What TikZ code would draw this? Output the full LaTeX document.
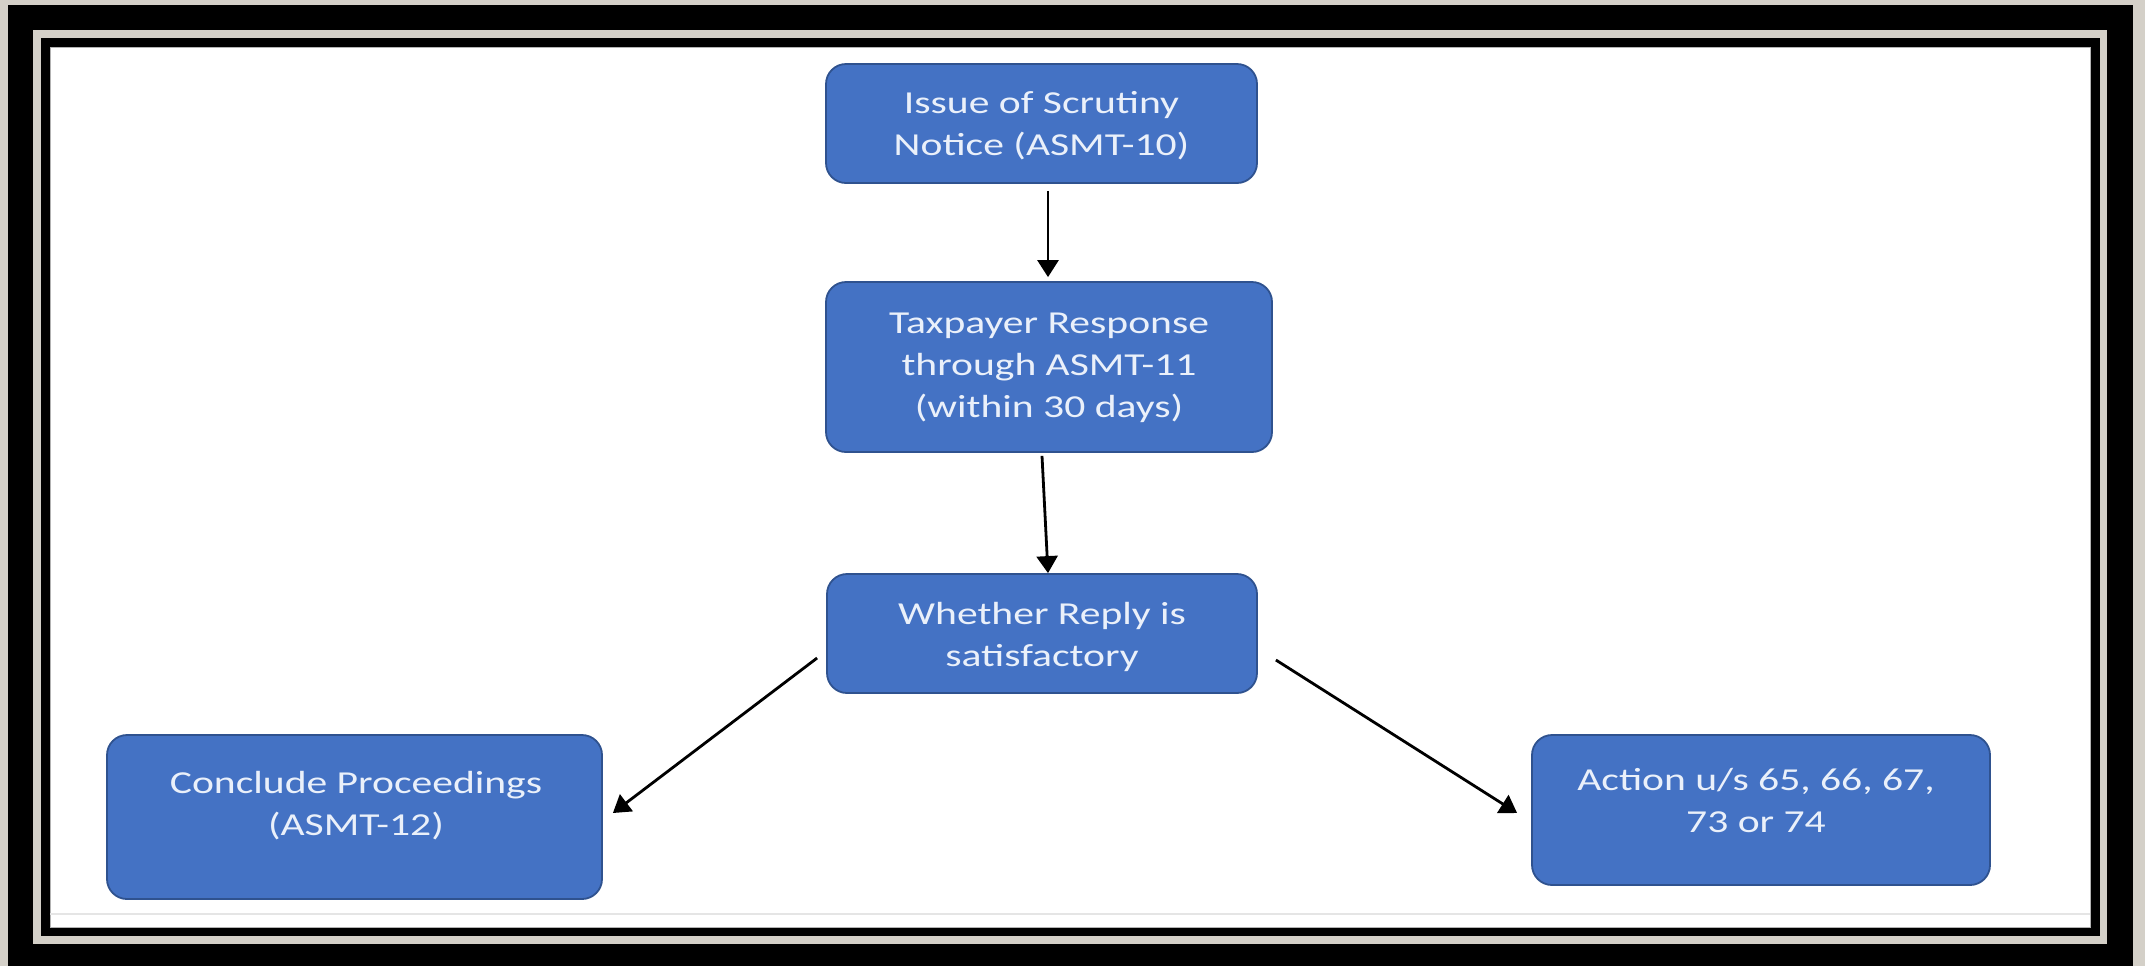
\documentclass[tikz,border=0pt]{standalone}
\usepackage{fontspec}
\setmainfont{Carlito}[FakeStretch=1.3]
\usetikzlibrary{arrows.meta}
\definecolor{framegray}{HTML}{D4D0C8}
\definecolor{boxblue}{HTML}{4472C4}
\definecolor{boxedge}{HTML}{2F528F}
\definecolor{boxtext}{HTML}{EAF0FA}
\begin{document}
\begin{tikzpicture}[x=0.5pt,y=-0.5pt,
  box/.style={draw=boxedge, fill=boxblue, rounded corners=10pt, line width=0.9pt, inner sep=0pt},
  txt/.style={text=boxtext, align=center, inner sep=0pt, font=\fontsize{16}{21}\selectfont},
  arr/.style={draw=black, line width=1.4pt, -{Triangle[length=8.5pt,width=10.5pt]}}]
\useasboundingbox (0,0) rectangle (2145,966);
% frames
\fill[framegray] (0,0) rectangle (2145,966);
\fill[black] (8,5) rectangle (2133,966);
\fill[framegray] (33,30) rectangle (2107,944);
\fill[black] (41,38) rectangle (2100,936);
\fill[white] (50,47) rectangle (2090,927);
\draw[gray!60, line width=0.5pt] (50,47) rectangle (2090,927);
\draw[gray!20, line width=1.2pt] (50,914) -- (2090,914);
% boxes
\node[box, minimum width=215.5pt, minimum height=59.5pt] (n1) at (1041.5,123.5) {};
\node[txt] (t1) at (1041.5,126) {Issue of Scrutiny\\Notice (ASMT-10)};
\node[box, minimum width=223pt, minimum height=85pt] (n2) at (1049,367) {};
\node[txt] (t2) at (1049,368) {Taxpayer Response\\through ASMT-11\\(within 30 days)};
\node[box, minimum width=215pt, minimum height=59.5pt] (n3) at (1042,633.5) {};
\node[txt] (t3) at (1042,637) {Whether Reply is\\satisfactory};
\node[box, minimum width=247.5pt, minimum height=82pt] (n4) at (354.5,817) {};
\node[txt] (t4) at (356,806) {Conclude Proceedings\\(ASMT-12)};
\node[box, minimum width=229pt, minimum height=75pt] (n5) at (1761,810) {};
\node[txt] (t5) at (1756,800) {Action u/s 65, 66, 67,\\73 or 74};
% connectors
\draw[arr] ([xshift=3.25pt,yshift=-3.5pt]n1.south) -- ([xshift=-0.5pt,yshift=2pt]n2.north);
\draw[arr] ([xshift=-3.5pt,yshift=-1.5pt]n2.south) -- ([xshift=3pt,yshift=0pt]n3.north);
\draw[arr] ([xshift=-4.5pt,yshift=-12.25pt]n3.west) -- ([xshift=5pt,yshift=2pt]n4.east);
\draw[arr] ([xshift=9pt,yshift=-13.25pt]n3.east) -- ([xshift=-7pt,yshift=-1.5pt]n5.west);
\end{tikzpicture}
\end{document}
